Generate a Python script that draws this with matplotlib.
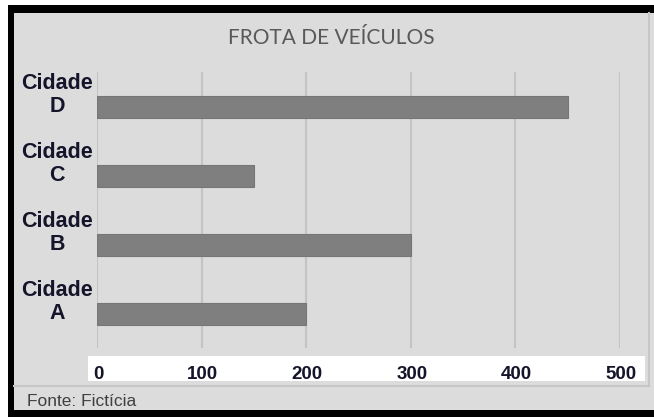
import matplotlib
matplotlib.use("Agg")
import matplotlib.pyplot as plt
from matplotlib.patches import Rectangle
from matplotlib.lines import Line2D
from matplotlib.transforms import blended_transform_factory, ScaledTranslation

categories = ["Cidade\nA", "Cidade\nB", "Cidade\nC", "Cidade\nD"]
values = [200, 300, 150, 450]
xticks = [0, 100, 200, 300, 400, 500]
title = "FROTA DE VEÍCULOS"
source = "Fonte: Fictícia"

W, H = 654, 417
fig = plt.figure(figsize=(W / 100, H / 100), dpi=100, facecolor="white")

def fx(px):
    return px / W

def fy(py):
    return 1 - py / H

# black outer frame
fig.patches.append(Rectangle((fx(8), fy(417)), fx(654) - fx(8), fy(5) - fy(417),
                             transform=fig.transFigure, facecolor="black", edgecolor="none", zorder=-3))
# gray inner background
fig.patches.append(Rectangle((fx(14), fy(410)), fx(654) - fx(14), fy(13) - fy(410),
                             transform=fig.transFigure, facecolor="#dcdcdc", edgecolor="none", zorder=-2))
# panel border lines
fig.lines.append(Line2D([fx(649), fx(649)], [fy(13), fy(386)], transform=fig.transFigure,
                        color="#c6c6c6", lw=1.5, zorder=-1))
fig.lines.append(Line2D([fx(14), fx(649)], [fy(386), fy(386)], transform=fig.transFigure,
                        color="#c6c6c6", lw=1.5, zorder=-1))
# white band behind tick labels
fig.patches.append(Rectangle((fx(88), fy(381)), fx(645) - fx(88), fy(356) - fy(381),
                             transform=fig.transFigure, facecolor="white", edgecolor="none", zorder=-1))

ax = fig.add_axes([fx(97), fy(348), fx(620) - fx(97), fy(72) - fy(348)])
ax.set_zorder(2)
ax.set_facecolor("none")
ypos = list(range(len(categories)))
ax.barh(ypos, values, height=0.32, color="#7f7f7f", edgecolor="#767676", linewidth=0.8, zorder=3)
ax.set_xlim(0, 500)
ax.set_ylim(-0.493, 3.507)
ax.set_xticks(xticks)
ax.set_xticklabels([str(t) for t in xticks], fontsize=13.5, fontweight="bold",
                   family="Liberation Sans", color="#14142a")
ax.tick_params(axis="x", length=0, pad=13)
for lbl in ax.get_xticklabels():
    lbl.set_transform(lbl.get_transform() + ScaledTranslation(1 / 100, 0, fig.dpi_scale_trans))
ax.set_yticks([])
ax.grid(axis="x", color="#c4c4c4", lw=1.5, zorder=0)
ax.set_axisbelow(True)
for s in ax.spines.values():
    s.set_visible(False)

tr = blended_transform_factory(fig.transFigure, ax.transData)
off = ScaledTranslation(0, 12 / 100, fig.dpi_scale_trans)
for y, c in zip(ypos, categories):
    ax.text(fx(57), y, c, transform=tr + off, ha="center", va="center",
            fontsize=15.5, fontweight="bold", family="Liberation Sans",
            color="#14142a", linespacing=1.1, clip_on=False)

fig.text(fx(331), fy(38), title, ha="center", va="center", fontsize=15,
         family="Lato", color="#595959")
fig.text(fx(27), fy(401), source, ha="left", va="center", fontsize=12.5,
         family="Liberation Sans", color="#404040")

fig.savefig("out.png", dpi=100, facecolor="white")
